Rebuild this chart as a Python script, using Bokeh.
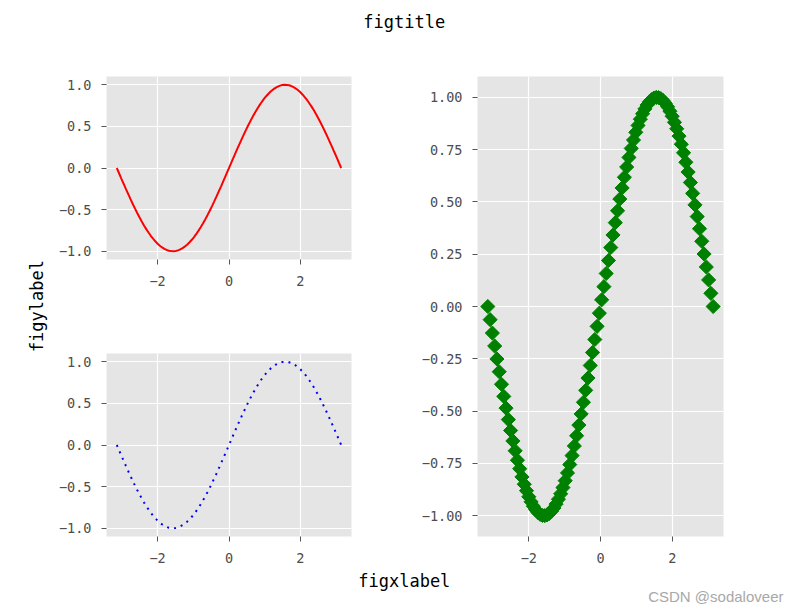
from bokeh.plotting import figure
from bokeh.layouts import row, column
from bokeh.models import Range1d, FixedTicker, CustomJSTickFormatter, Label
from bokeh.embed import file_html
from bokeh.resources import INLINE

# ---- data ----
X_VALUES = [
    -3.142, -3.078, -3.015, -2.951, -2.888, -2.824, -2.761, -2.697, -2.634, -2.570,
    -2.507, -2.443, -2.380, -2.317, -2.253, -2.190, -2.126, -2.063, -1.999, -1.936,
    -1.872, -1.809, -1.745, -1.682, -1.618, -1.555, -1.492, -1.428, -1.365, -1.301,
    -1.238, -1.174, -1.111, -1.047, -0.984, -0.920, -0.857, -0.793, -0.730, -0.666,
    -0.603, -0.539, -0.476, -0.413, -0.349, -0.286, -0.222, -0.159, -0.095, -0.032,
    0.032, 0.095, 0.159, 0.222, 0.286, 0.349, 0.413, 0.476, 0.539, 0.603,
    0.666, 0.730, 0.793, 0.857, 0.920, 0.984, 1.047, 1.111, 1.174, 1.238,
    1.301, 1.365, 1.428, 1.492, 1.555, 1.618, 1.682, 1.745, 1.809, 1.872,
    1.936, 1.999, 2.063, 2.126, 2.190, 2.253, 2.317, 2.380, 2.443, 2.507,
    2.570, 2.634, 2.697, 2.761, 2.824, 2.888, 2.951, 3.015, 3.078, 3.142,
]
SIN_VALUES = [
    0.000, -0.063, -0.127, -0.189, -0.251, -0.312, -0.372, -0.430, -0.486, -0.541,
    -0.593, -0.643, -0.690, -0.735, -0.776, -0.815, -0.850, -0.881, -0.910, -0.934,
    -0.955, -0.972, -0.985, -0.994, -0.999, -1.000, -0.997, -0.990, -0.979, -0.964,
    -0.945, -0.922, -0.896, -0.866, -0.833, -0.796, -0.756, -0.713, -0.667, -0.618,
    -0.567, -0.514, -0.458, -0.401, -0.342, -0.282, -0.220, -0.158, -0.095, -0.032,
    0.032, 0.095, 0.158, 0.220, 0.282, 0.342, 0.401, 0.458, 0.514, 0.567,
    0.618, 0.667, 0.713, 0.756, 0.796, 0.833, 0.866, 0.896, 0.922, 0.945,
    0.964, 0.979, 0.990, 0.997, 1.000, 0.999, 0.994, 0.985, 0.972, 0.955,
    0.934, 0.910, 0.881, 0.850, 0.815, 0.776, 0.735, 0.690, 0.643, 0.593,
    0.541, 0.486, 0.430, 0.372, 0.312, 0.251, 0.189, 0.127, 0.063, 0.000,
]
X_TICKS = [-2, 0, 2]
Y_TICKS_SMALL = [-1.0, -0.5, 0.0, 0.5, 1.0]
Y_TICKS_BIG = [-1.0, -0.75, -0.5, -0.25, 0.0, 0.25, 0.5, 0.75, 1.0]
FIG_TITLE = "figtitle"
FIG_XLABEL = "figxlabel"
FIG_YLABEL = "figylabel"
WATERMARK = "CSDN @sodaloveer"

MONO = "DejaVu Sans Mono"
TICK_GRAY = "#555555"
PANEL_BG = "#E5E5E5"


def fmt(decimals):
    return CustomJSTickFormatter(
        code="return (tick < 0 ? '\\u2212' : '') + Math.abs(tick).toFixed(%d);" % decimals)


def panel(width, height, bl, br, bt, bb, yticks, ydec):
    p = figure(width=width, height=height, output_backend="svg", toolbar_location=None,
               x_range=Range1d(-3.43, 3.43), y_range=Range1d(-1.1, 1.1),
               min_border_left=bl, min_border_right=br,
               min_border_top=bt, min_border_bottom=bb,
               background_fill_color=PANEL_BG, border_fill_color="white",
               outline_line_color=None)
    p.xaxis.ticker = FixedTicker(ticks=X_TICKS)
    p.yaxis.ticker = FixedTicker(ticks=yticks)
    p.xaxis.formatter = fmt(0)
    p.yaxis.formatter = fmt(ydec)
    for ax in p.axis:
        ax.axis_line_color = None
        ax.major_tick_line_color = TICK_GRAY
        ax.major_tick_line_width = 1
        ax.major_tick_out = 5
        ax.major_tick_in = 0
        ax.minor_tick_line_color = None
        ax.major_label_text_font = MONO
        ax.major_label_text_font_size = "13.5px"
        ax.major_label_text_color = "#4d4d4d"
    p.xaxis.major_label_standoff = 11
    p.yaxis.major_label_standoff = 10
    p.grid.grid_line_color = "white"
    p.grid.grid_line_width = 1.2
    return p


def text_fig(width, height):
    p = figure(width=width, height=height, output_backend="svg", toolbar_location=None,
               x_range=Range1d(0, width), y_range=Range1d(0, height), min_border=0,
               x_axis_location=None, y_axis_location=None, outline_line_color=None)
    p.grid.visible = False
    return p


# top-left: red line
p1 = panel(359, 266, 50, 63, 36, 47, Y_TICKS_SMALL, 1)
p1.line(X_VALUES, SIN_VALUES, line_color="red", line_width=2)

# bottom-left: blue dotted line
p2 = panel(359, 266, 50, 63, 47, 36, Y_TICKS_SMALL, 1)
p2.line(X_VALUES, SIN_VALUES, line_color="blue", line_width=2, line_dash="2 5")

# right: green diamonds
p3 = panel(387, 532, 63, 78, 36, 36, Y_TICKS_BIG, 2)
p3.scatter(X_VALUES, SIN_VALUES, marker="square", size=10, angle=0.7853982,
           fill_color="green", line_color="green", line_width=1)

# figure-level texts
t_top = text_fig(801, 40)
t_top.add_layout(Label(x=403.7, y=18.5, text=FIG_TITLE, text_font=MONO,
                       text_font_size="17px", text_color="black",
                       text_align="center", text_baseline="alphabetic"))

t_left = text_fig(55, 532)
t_left.add_layout(Label(x=36, y=266.5, text=FIG_YLABEL, text_font=MONO,
                        text_font_size="17px", text_color="black", angle=1.5707963,
                        text_align="center", text_baseline="alphabetic"))

t_bot = text_fig(801, 39)
t_bot.add_layout(Label(x=403.8, y=31, text=FIG_XLABEL, text_font=MONO,
                       text_font_size="17px", text_color="black",
                       text_align="center", text_baseline="alphabetic"))
t_bot.add_layout(Label(x=647.7, y=15, text=WATERMARK, text_font="Liberation Sans",
                       text_font_size="15px", text_color="#a8a8a8",
                       text_align="left", text_baseline="alphabetic"))

layout = column(t_top,
                row(t_left, column(p1, p2, spacing=0), p3, spacing=0),
                t_bot, spacing=0)

open("out.html", "w").write(file_html(layout, INLINE))
